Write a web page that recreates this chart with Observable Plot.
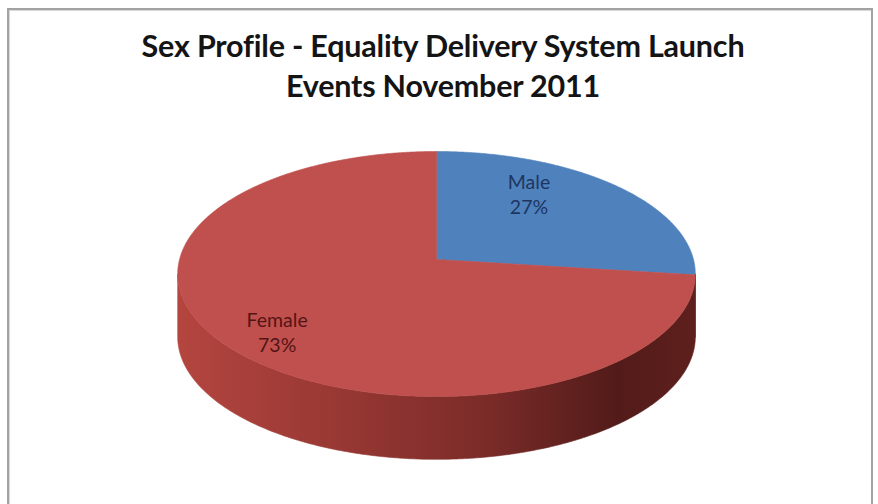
<!DOCTYPE html>
<html>
<head>
<meta charset="utf-8">
<script src="https://cdn.jsdelivr.net/npm/d3@7"></script>
<script src="https://cdn.jsdelivr.net/npm/@observablehq/plot@0.6"></script>
<style>
  html, body { margin: 0; padding: 0; background: #fff; }
  #wrap { position: relative; width: 878px; height: 504px; overflow: hidden; background: #fff; }
  #frame { position: absolute; left: 7px; top: 8px; width: 862px; height: 530px;
           border: 2px solid #a2a2a2; box-shadow: inset 1px 1px 1px #d8d8d8; }
  #title { position: absolute; left: 4px; width: 878px; top: 25px; text-align: center;
           font-family: Lato, "Open Sans", sans-serif; font-weight: bold; font-size: 30.5px;
           line-height: 40px; color: #141414; letter-spacing: -0.2px; }
  #chart { position: absolute; left: 0; top: 0; }
</style>
</head>
<body>
<div id="wrap">
  <div id="frame"></div>
  <div id="title">Sex Profile - Equality Delivery System Launch<br>Events November 2011</div>
  <div id="chart"></div>
</div>
<script>
// ---- data ----
const categories = ["Male", "Female"];
const values = [27, 73];
const topColors = ["#4F81BD", "#C0504D"];
const labelColors = ["#1d3660", "#551414"];

// ---- 3D perspective pie geometry (unit circle, tilted) ----
const k = 0.1184;     // perspective strength
const depth = 0.52;   // side thickness in projected y units
function proj(theta, r) {
  const u = r * Math.sin(theta), v = -r * Math.cos(theta);
  const s = 1 / (1 - k * v);
  return [u * s, v * s];
}
const thetaR = Math.acos(-k), thetaL = 2 * Math.PI - thetaR;
const step = Math.PI / 360;

const slices = d3.pie().sort(null).value(d => d)(values).map((a, i) => ({
  cat: categories[i], value: values[i], start: a.startAngle, end: a.endAngle, i
}));

function arcPts(a0, a1) {
  const pts = [];
  const n = Math.max(2, Math.ceil((a1 - a0) / step));
  for (let j = 0; j <= n; j++) pts.push(proj(a0 + (a1 - a0) * j / n, 1));
  return pts;
}
const topFaces = slices.map(s => [[0, 0], ...arcPts(s.start, s.end), [0, 0]]
  .map(([x, y]) => ({x, y, cat: s.cat})));
const sideFaces = slices.map(s => {
  const a0 = Math.max(s.start, thetaR), a1 = Math.min(s.end, thetaL);
  if (a1 <= a0) return [];
  const ring = arcPts(a0, a1);
  const bottom = ring.slice().reverse().map(([x, y]) => [x, y + depth]);
  return [...ring, ...bottom, ring[0]].map(([x, y]) => ({x, y, cat: s.cat}));
});
const sideFills = ["#2c4a73", "url(#sideGrad)"];

// labels
const labelR = 0.6;
const labels = slices.map(s => {
  const [x, y] = proj((s.start + s.end) / 2, labelR);
  return {x, y, text: `${s.cat}\n${s.value}%`, i: s.i};
});
const labelOffsets = [[-18, -20], [-38, 22]];

const marks = [];
sideFaces.forEach((pts, i) => {
  if (pts.length) marks.push(Plot.line(pts, {x: "x", y: "y", fill: sideFills[i], stroke: sideFills[i], strokeWidth: 0.6}));
});
topFaces.forEach((pts, i) => {
  marks.push(Plot.line(pts, {x: "x", y: "y", fill: topColors[i], stroke: topColors[i], strokeWidth: 0.6}));
});
labels.forEach((l, i) => {
  marks.push(Plot.text([l], {x: "x", y: "y", text: "text", fill: labelColors[i],
    dx: labelOffsets[i][0], dy: labelOffsets[i][1],
    fontSize: 19.5, lineHeight: 1.25, fontFamily: "Lato, 'Open Sans', sans-serif"}));
});

const cx = 436, cy = 259, sx = 257, sy = 120.8, W = 878, H = 504;
const svg = Plot.plot({
  width: W, height: H, margin: 0,
  x: {domain: [-cx / sx, (W - cx) / sx], range: [0, W], axis: null},
  y: {domain: [-cy / sy, (H - cy) / sy], range: [0, H], axis: null},
  style: {background: "transparent", overflow: "visible"},
  marks
});

// gradient for the curved side
const ns = "http://www.w3.org/2000/svg";
const defs = document.createElementNS(ns, "defs");
const grad = document.createElementNS(ns, "linearGradient");
grad.setAttribute("id", "sideGrad");
grad.setAttribute("x1", "0"); grad.setAttribute("x2", "1");
grad.setAttribute("y1", "0"); grad.setAttribute("y2", "0");
[["0", "#b4453f"], ["0.3", "#993834"], ["0.6", "#7a2b28"], ["0.85", "#521b19"], ["1", "#5e201d"]].forEach(([o, c]) => {
  const st = document.createElementNS(ns, "stop");
  st.setAttribute("offset", o); st.setAttribute("stop-color", c);
  grad.appendChild(st);
});
defs.appendChild(grad);
svg.insertBefore(defs, svg.firstChild);

document.getElementById("chart").appendChild(svg);
</script>
</body>
</html>
